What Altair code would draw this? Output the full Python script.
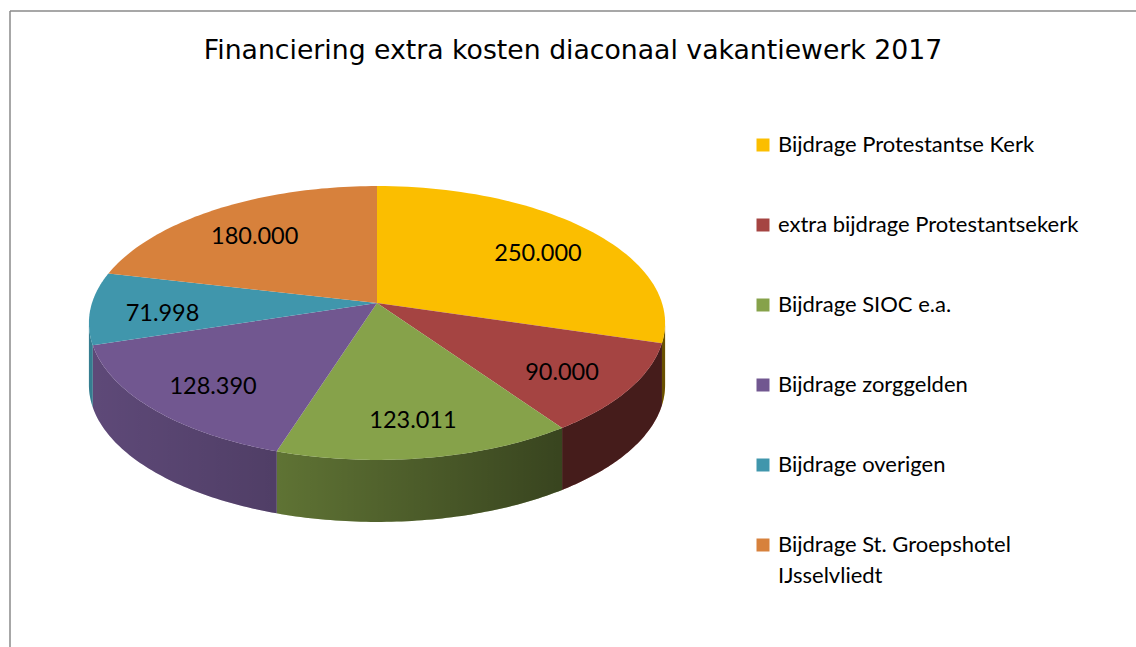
import altair as alt
import pandas as pd

# ---- data ----
categories = [
    "Bijdrage Protestantse Kerk",
    "extra bijdrage Protestantsekerk",
    "Bijdrage SIOC e.a.",
    "Bijdrage zorggelden",
    "Bijdrage overigen",
    "Bijdrage St. Groepshotel IJsselvliedt",
]
values = [250000, 90000, 123011, 128390, 71998, 180000]
value_labels = [f"{v:,}".replace(",", ".") for v in values]
colors = ["#FBBE00", "#A54442", "#86A24A", "#715790", "#4096AC", "#D7813C"]

df = pd.DataFrame({
    "idx": list(range(len(values))),
    "category": categories,
    "value": values,
    "label": value_labels,
})

# ---- layout / 3D look parameters ----
W, H = 1126, 636          # plot area
CX, CY = 367, 292         # pie centre (px in plot area)
RX, RY = 285, 134         # radii of tilted pie (px)
K = 0.146                 # perspective factor
DEPTH = 62 / RY           # thickness in y units
SEG = 60
LABEL_R = 0.75

xscale = alt.Scale(domain=[-CX / RX, (W - CX) / RX], nice=False, zero=False)
yscale = alt.Scale(domain=[-(H - CY) / RY, CY / RY], nice=False, zero=False)

legend = alt.Legend(
    title=None, orient="none", legendX=742, legendY=123,
    symbolType="square", symbolSize=169, symbolStrokeWidth=0,
    labelFont="Lato", labelFontSize=22, labelColor="black",
    labelLimit=400, rowPadding=58, labelOffset=4,
    labelExpr="datum.label == 'Bijdrage St. Groepshotel IJsselvliedt' ? ['Bijdrage St. Groepshotel', 'IJsselvliedt'] : datum.label",
)
color = alt.Color("category:N", scale=alt.Scale(domain=categories, range=colors),
                  sort=categories, legend=legend)

base = (
    alt.Chart(df)
    .transform_joinaggregate(total="sum(value)")
    .transform_window(cum="sum(value)", sort=[alt.SortField("idx")], frame=[None, 0])
    .transform_calculate(a0="2*PI*(datum.cum-datum.value)/datum.total")
    .transform_calculate(a1="2*PI*datum.cum/datum.total")
)

X = alt.X("px:Q", scale=xscale, axis=None)
Y = alt.Y("py:Q", scale=yscale, axis=None)

# top faces
top = (
    base.transform_calculate(t=f"sequence(-1, {SEG + 1})")
    .transform_flatten(["t"])
    .transform_calculate(th=f"datum.a0 + (datum.a1-datum.a0)*max(datum.t,0)/{SEG}")
    .transform_calculate(r="datum.t < 0 ? 0 : 1")
    .transform_calculate(px=f"datum.r*sin(datum.th)/(1+{K}*datum.r*cos(datum.th))")
    .transform_calculate(py=f"datum.r*cos(datum.th)/(1+{K}*datum.r*cos(datum.th))")
    .mark_line(filled=True, interpolate="linear")
    .encode(x=X, y=Y, order="t:Q", color=color)
)

# lighting: darkness of the rim as a function of horizontal pixel position
def fac(expr):
    return (f"clamp(({expr}) < 290 ? 0.7 - 0.0007*(({expr})-290) : "
            f"0.7 - 0.0012*(({expr})-290), 0.42, 0.9)")

# side faces (visible front arc only)
side_base = (
    base.transform_calculate(s0=f"max(datum.a0, acos(-{K}))")
    .transform_calculate(s1=f"min(datum.a1, 2*PI - acos(-{K}))")
    .transform_filter("datum.s1 > datum.s0")
    .transform_calculate(xr=f"{CX + 10} + {RX}*sin(datum.s0)/(1+{K}*cos(datum.s0))")
    .transform_calculate(xl=f"{CX + 10} + {RX}*sin(datum.s1)/(1+{K}*cos(datum.s1))")
    .transform_calculate(fl=fac("datum.xl"))
    .transform_calculate(fr=fac("datum.xr"))
    .transform_calculate(shade="1 - datum.fl")
    .transform_calculate(grad="1 - datum.fr/datum.fl")
    .transform_calculate(t=f"sequence(0, {2 * SEG + 2})")
    .transform_flatten(["t"])
    .transform_calculate(s=f"datum.t <= {SEG} ? datum.t : {2 * SEG + 1} - datum.t")
    .transform_calculate(z=f"datum.t <= {SEG} ? 0 : 1")
    .transform_calculate(th=f"datum.s0 + (datum.s1-datum.s0)*datum.s/{SEG}")
    .transform_calculate(px=f"sin(datum.th)/(1+{K}*cos(datum.th))")
    .transform_calculate(py=f"cos(datum.th)/(1+{K}*cos(datum.th)) - {DEPTH}*datum.z")
)
side = side_base.mark_line(filled=True).encode(x=X, y=Y, order="t:Q", color=color)
side_dark = side_base.mark_line(filled=True, color="black").encode(
    x=X, y=Y, order="t:Q", detail="category:N",
    opacity=alt.Opacity("shade:Q", scale=None, legend=None),
)
side_grad = side_base.mark_line(
    filled=True,
    color=alt.Gradient(
        gradient="linear", x1=0, x2=1, y1=0, y2=0,
        stops=[alt.GradientStop(color="rgba(0,0,0,0)", offset=0),
               alt.GradientStop(color="rgba(0,0,0,1)", offset=1)],
    ),
).encode(
    x=X, y=Y, order="t:Q", detail="category:N",
    opacity=alt.Opacity("grad:Q", scale=None, legend=None),
)

# value labels
labels = (
    base.transform_calculate(mid="(datum.a0+datum.a1)/2")
    .transform_calculate(px=f"{LABEL_R}*sin(datum.mid)/(1+{K}*{LABEL_R}*cos(datum.mid))")
    .transform_calculate(py=f"{LABEL_R}*cos(datum.mid)/(1+{K}*{LABEL_R}*cos(datum.mid))")
    .mark_text(font="Lato", fontSize=23.5, color="black", dy=7)
    .encode(x=X, y=Y, text="label:N")
)

frame_df = pd.DataFrame({"f": [0]})
frame_left = alt.Chart(frame_df).mark_rule(color="#8a8a8a", strokeWidth=1.5).encode(
    x=alt.value(0), y=alt.value(0), y2=alt.value(H))
frame_top = alt.Chart(frame_df).mark_rule(color="#8a8a8a", strokeWidth=1.5).encode(
    x=alt.value(0), x2=alt.value(W), y=alt.value(0))

chart = (
    alt.layer(side, side_dark, side_grad, top, labels, frame_left, frame_top)
    .properties(
        width=W, height=H, autosize="none",
        padding={"left": 10, "top": 11, "right": 0, "bottom": 0},
        title=alt.TitleParams(
            text="Financiering extra kosten diaconaal vakantiewerk 2017",
            font="DejaVu Sans", fontSize=26.7, fontWeight="normal", color="black",
            anchor="middle", baseline="alphabetic", offset=-75,
        ),
    )
    .configure(
        view=alt.ViewConfig(strokeOpacity=0),
        style={"guide-label": {"lineHeight": 31}},
    )
)

chart.save("out.html", embed_options={"renderer": "svg", "actions": False})
